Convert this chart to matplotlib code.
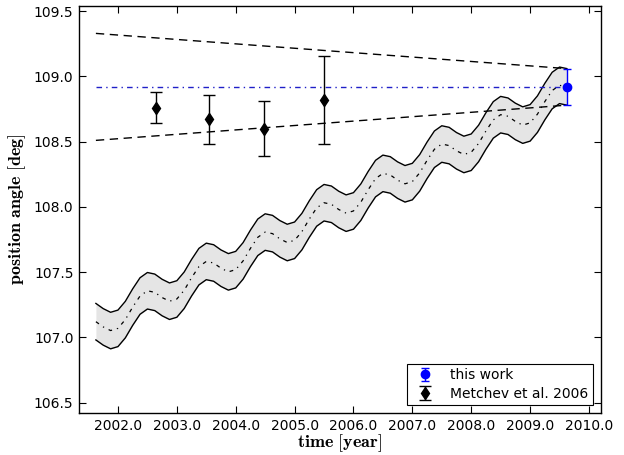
import numpy as np
import matplotlib
matplotlib.use('Agg')
import matplotlib.pyplot as plt
from matplotlib.ticker import FormatStrFormatter, MultipleLocator

plt.rcParams['mathtext.fontset'] = 'cm'
plt.rcParams['font.family'] = 'DejaVu Sans'

# model curve (middle of the band), read every 1/8 year
model_t = [2001.625, 2001.750, 2001.875, 2002.000, 2002.125, 2002.250, 2002.375, 2002.500,
           2002.625, 2002.750, 2002.875, 2003.000, 2003.125, 2003.250, 2003.375, 2003.500,
           2003.625, 2003.750, 2003.875, 2004.000, 2004.125, 2004.250, 2004.375, 2004.500,
           2004.625, 2004.750, 2004.875, 2005.000, 2005.125, 2005.250, 2005.375, 2005.500,
           2005.625, 2005.750, 2005.875, 2006.000, 2006.125, 2006.250, 2006.375, 2006.500,
           2006.625, 2006.750, 2006.875, 2007.000, 2007.125, 2007.250, 2007.375, 2007.500,
           2007.625, 2007.750, 2007.875, 2008.000, 2008.125, 2008.250, 2008.375, 2008.500,
           2008.625, 2008.750, 2008.875, 2009.000, 2009.125, 2009.250, 2009.375, 2009.500,
           2009.625]
model_pa = [107.120, 107.080, 107.052, 107.069, 107.136, 107.232, 107.317, 107.357,
            107.345, 107.305, 107.277, 107.294, 107.361, 107.457, 107.542, 107.582,
            107.570, 107.530, 107.502, 107.519, 107.586, 107.682, 107.767, 107.807,
            107.795, 107.755, 107.727, 107.744, 107.811, 107.907, 107.992, 108.032,
            108.020, 107.980, 107.952, 107.969, 108.036, 108.132, 108.217, 108.257,
            108.245, 108.205, 108.177, 108.194, 108.261, 108.357, 108.442, 108.482,
            108.470, 108.430, 108.402, 108.419, 108.486, 108.582, 108.667, 108.707,
            108.695, 108.655, 108.627, 108.644, 108.711, 108.807, 108.892, 108.932,
            108.920]
band = 0.14

# straight reference lines
line_t = [2001.625, 2009.625]
upper_env = [109.33, 109.06]
lower_env = [108.51, 108.78]
this_pa_line = [108.92, 108.92]

# measurements
metchev_t = [2002.645, 2003.545, 2004.48, 2005.50]
metchev_pa = [108.76, 108.67, 108.60, 108.82]
metchev_err = [0.12, 0.19, 0.21, 0.34]

this_t = [2009.625]
this_pa = [108.92]
this_err = [0.14]

mid = np.array(model_pa)
upper = mid + band
lower = mid - band

fig = plt.figure(figsize=(6.24, 4.55), dpi=100)
ax = fig.add_axes([0.1266, 0.0923, 0.8365, 0.8945])

ax.fill_between(model_t, lower, upper, color='#e5e5e5', lw=0, zorder=1)
ax.plot(model_t, upper, color='k', lw=1.0, zorder=2)
ax.plot(model_t, lower, color='k', lw=1.0, zorder=2)
ax.plot(model_t, mid, color='k', lw=0.9, dashes=(3, 4, 1, 4), zorder=2)

ax.plot(line_t, upper_env, color='k', lw=1.0, dashes=(6, 4), zorder=2)
ax.plot(line_t, lower_env, color='k', lw=1.0, dashes=(6, 4), zorder=2)
ax.plot(line_t, this_pa_line, color='#2020c8', lw=1.0, dashes=(4, 3, 1, 3), zorder=2)

ax.errorbar(this_t, this_pa, yerr=this_err, fmt='o', color='b', ms=6,
            capsize=3, elinewidth=1.0, mew=1.0, label='this work', zorder=4)
ax.errorbar(metchev_t, metchev_pa, yerr=metchev_err, fmt='d', color='k', ms=6,
            capsize=4, elinewidth=1.0, mew=1.0, label='Metchev et al. 2006', zorder=4)

ax.set_xlim(2001.338, 2010.204)
ax.set_ylim(106.42, 109.54)
ax.xaxis.set_major_locator(MultipleLocator(1.0))
ax.yaxis.set_major_locator(MultipleLocator(0.5))
ax.xaxis.set_major_formatter(FormatStrFormatter('%.1f'))
ax.yaxis.set_major_formatter(FormatStrFormatter('%.1f'))
ax.tick_params(direction='in', top=True, right=True, length=5, width=0.8, labelsize=10, pad=4)
for s in ax.spines.values():
    s.set_linewidth(1.0)

ax.set_xlabel(r'$\mathbf{time\ [year]}$', fontsize=13, labelpad=0)
ax.set_ylabel(r'$\mathbf{position\ angle\ [deg]}$', fontsize=13, labelpad=4)

leg = ax.legend(loc='lower right', fontsize=10, fancybox=False, framealpha=1,
                edgecolor='k', borderaxespad=0.6, handletextpad=0.8, numpoints=1,
                borderpad=0.3, labelspacing=0.3)
leg.get_frame().set_linewidth(0.8)

fig.savefig('out.png', dpi=100)
